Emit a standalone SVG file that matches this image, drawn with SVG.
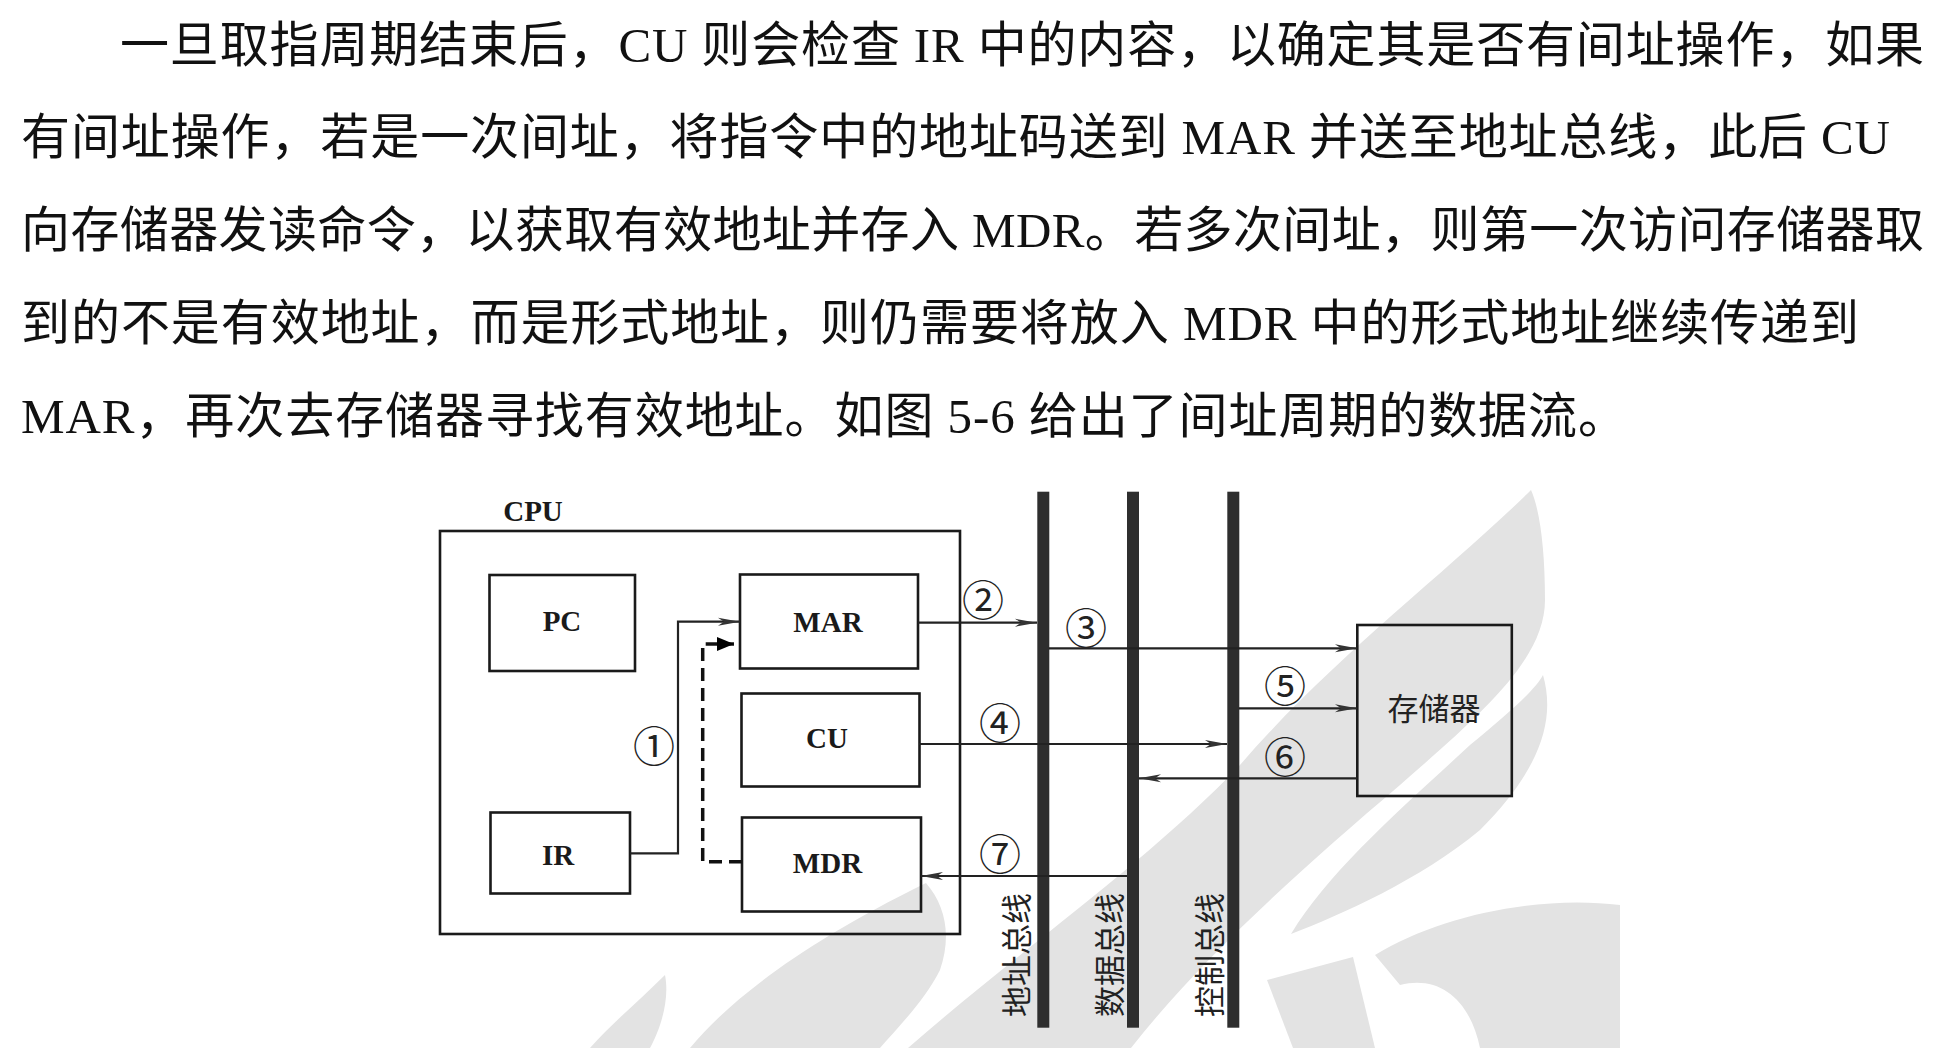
<svg xmlns="http://www.w3.org/2000/svg" width="1954" height="1048" viewBox="0 0 1954 1048">
<style>
  .para { font-family: "Liberation Serif", "Noto Sans CJK SC", serif; font-size: 49px; fill: #111; }
  .lbl { font-family: "Liberation Serif", "Noto Sans CJK SC", serif; font-size: 29px; font-weight: bold; fill: #1a1a1a; text-anchor: middle; }
  .cjk { font-family: "Noto Sans CJK SC", sans-serif; font-size: 31px; fill: #222; text-anchor: middle; }
  .num { font-family: "Noto Sans CJK SC", sans-serif; font-size: 42px; fill: #222; text-anchor: middle; }
  .box { fill: none; stroke: #1a1a1a; stroke-width: 2.6; }
  .wire { fill: none; stroke: #222; stroke-width: 2.2; }
  .dash { fill: none; stroke: #111; stroke-width: 3.5; stroke-dasharray: 13 7; }
  .bus { fill: #2e2e2e; }
  .wm { fill: #e3e3e3; }
</style>
<defs>
  <marker id="arr" markerUnits="userSpaceOnUse" markerWidth="24" markerHeight="10" refX="22" refY="5" orient="auto">
    <path d="M0,1 L22,5 L0,9 L6,5 Z" fill="#333"/>
  </marker>
  <marker id="tri" markerUnits="userSpaceOnUse" markerWidth="18" markerHeight="15" refX="17" refY="7" orient="auto">
    <path d="M0,0 L17,7 L0,14 Z" fill="#000"/>
  </marker>
</defs>
<rect width="1954" height="1048" fill="#fff"/>

<g id="watermark">
  <path class="wm" d="M1531,490 C1450,570 1330,660 1240,765 C1150,860 1020,950 908,1048 L1131,1048 C1200,960 1300,870 1400,785 C1480,715 1545,660 1545,600 C1545,550 1540,510 1531,490 Z"/>
  <path class="wm" d="M1543,675 C1556,720 1540,770 1480,830 C1420,880 1340,915 1291,934 C1330,870 1400,810 1470,745 C1510,712 1535,690 1543,675 Z"/>
  <path class="wm" d="M1267,980 L1353,957 L1375,1048 L1293,1048 Z"/>
  <path class="wm" d="M1375,955 C1440,915 1540,895 1620,905 L1620,1048 L1480,1048 C1470,1000 1440,975 1400,985 Z"/>
  <path class="wm" d="M926,883 C945,905 952,935 940,970 C925,1000 900,1025 880,1048 L690,1048 C730,1000 800,945 926,883 Z"/>
  <path class="wm" d="M665,975 C640,1000 610,1025 590,1048 L650,1048 C660,1030 670,1000 665,975 Z"/>
</g>

<g id="paragraph" class="para">
  <text x="120" y="62" textLength="1804" lengthAdjust="spacing">一旦取指周期结束后，CU 则会检查 IR 中的内容，以确定其是否有间址操作，如果</text>
  <text x="21" y="154" textLength="1869" lengthAdjust="spacing">有间址操作，若是一次间址，将指令中的地址码送到 MAR 并送至地址总线，此后 CU</text>
  <text x="21" y="247" textLength="1903" lengthAdjust="spacing">向存储器发读命令，以获取有效地址并存入 MDR。若多次间址，则第一次访问存储器取</text>
  <text x="21" y="340" textLength="1838" lengthAdjust="spacing">到的不是有效地址，而是形式地址，则仍需要将放入 MDR 中的形式地址继续传递到</text>
  <text x="21" y="433" textLength="1606" lengthAdjust="spacing">MAR，再次去存储器寻找有效地址。如图 5-6 给出了间址周期的数据流。</text>
</g>

<g id="cpu">
  <rect class="box" x="440" y="531" width="520" height="403"/>
  <text class="lbl" x="533" y="521">CPU</text>
</g>
<g id="pc">
  <rect class="box" x="489.5" y="575" width="145.5" height="96"/>
  <text class="lbl" x="562" y="631">PC</text>
</g>
<g id="mar">
  <rect class="box" x="740" y="574.5" width="178" height="94"/>
  <text class="lbl" x="828" y="632">MAR</text>
</g>
<g id="cu">
  <rect class="box" x="741.5" y="693.5" width="178" height="93"/>
  <text class="lbl" x="827" y="748">CU</text>
</g>
<g id="mdr">
  <rect class="box" x="742" y="817.5" width="179" height="94"/>
  <text class="lbl" x="827.5" y="873">MDR</text>
</g>
<g id="ir">
  <rect class="box" x="490.5" y="812.5" width="139.5" height="81"/>
  <text class="lbl" x="558" y="865">IR</text>
</g>
<g id="memory">
  <rect class="box" x="1357.3" y="625" width="154.5" height="171"/>
  <text class="cjk" x="1434" y="720">存储器</text>
</g>
<g id="address-bus">
  <rect class="bus" x="1037.3" y="491.7" width="12" height="536"/>
  <text class="cjk" transform="translate(1028,955) rotate(-90)">地址总线</text>
</g>
<g id="data-bus">
  <rect class="bus" x="1127" y="491.7" width="12" height="536"/>
  <text class="cjk" transform="translate(1121,955) rotate(-90)">数据总线</text>
</g>
<g id="control-bus">
  <rect class="bus" x="1227.3" y="491.7" width="12" height="536"/>
  <text class="cjk" transform="translate(1221,955) rotate(-90)">控制总线</text>
</g>

<g id="connectors">
  <path class="wire" d="M630,853.3 H678 V621.7 H740" marker-end="url(#arr)"/>
  <path class="dash" d="M742,861.7 H702.7 V644 H734" marker-end="url(#tri)"/>
  <path class="wire" d="M918,622.7 H1037" marker-end="url(#arr)"/>
  <path class="wire" d="M1049,648.3 H1357" marker-end="url(#arr)"/>
  <path class="wire" d="M919,744 H1227" marker-end="url(#arr)"/>
  <path class="wire" d="M1239,708.3 H1357" marker-end="url(#arr)"/>
  <path class="wire" d="M1357,778.3 H1139" marker-end="url(#arr)"/>
  <path class="wire" d="M1127,876 H921" marker-end="url(#arr)"/>
  <text class="num" x="654" y="762">①</text>
  <text class="num" x="983" y="616">②</text>
  <text class="num" x="1086" y="644">③</text>
  <text class="num" x="1000" y="739">④</text>
  <text class="num" x="1285" y="702">⑤</text>
  <text class="num" x="1285" y="773">⑥</text>
  <text class="num" x="1000" y="870">⑦</text>
</g>
</svg>
